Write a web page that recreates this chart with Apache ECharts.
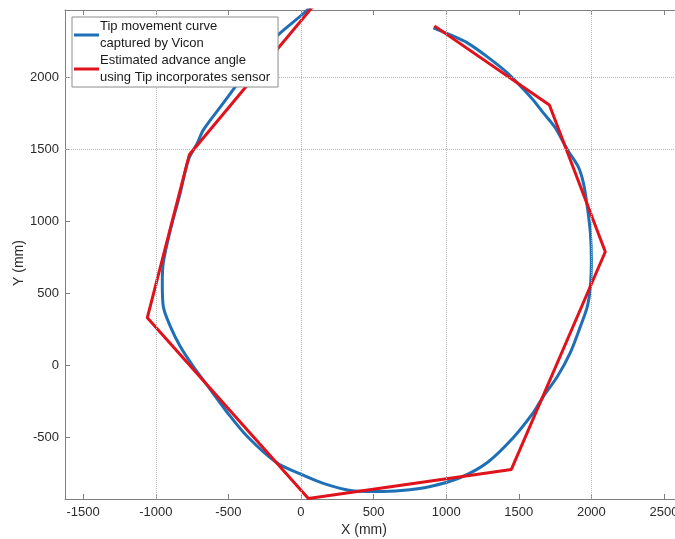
<!DOCTYPE html>
<html>
<head>
<meta charset="utf-8">
<script src="https://cdn.jsdelivr.net/npm/echarts@6/dist/echarts.min.js"></script>
<style>html,body{margin:0;padding:0;background:#fff;}#c{width:675px;height:539px;}</style>
</head>
<body>
<div id="c"></div>
<script>
// Tip movement curve captured by Vicon (mm)
var blueX = [912, 1029, 1146, 1284, 1421, 1580, 1669, 1752, 1835, 1910, 1945, 1972, 1993, 2000, 1993, 1972, 1924, 1855, 1766, 1669, 1601, 1463, 1284, 1098, 891, 691, 512, 340, 154, 3, -169, -369, -507, -624, -741, -831, -899, -948, -955, -948, -899, -831, -775, -713, -672, -534, -417, -280, -142, 44, 99];
var blueY = [2341, 2292, 2237, 2140, 2029, 1863, 1752, 1648, 1496, 1378, 1267, 1101, 921, 734, 547, 409, 270, 90, -76, -215, -325, -499, -672, -776, -838, -866, -873, -866, -817, -755, -672, -492, -325, -166, -7, 132, 270, 409, 575, 713, 942, 1198, 1427, 1544, 1634, 1821, 1981, 2168, 2306, 2465, 2535];
// Estimated advance angle using Tip incorporates sensor (mm)
var redX = [919, 1711, 2096, 1449, 51, -1058, -769, 120];
var redY = [2355, 1807, 789, -720, -921, 332, 1461, 2535];
// Axis ticks and grid lines
var xTicks = [-1500, -1000, -500, 0, 500, 1000, 1500, 2000, 2500];
var yTicks = [-500, 0, 500, 1000, 1500, 2000];
var gridX = [-1000, 0, 1000, 2000];
var gridY = [1500, 2000];

var nameBlue = 'Tip movement curve\ncaptured by Vicon';
var nameRed = 'Estimated advance angle\nusing Tip incorporates sensor';

function pairs(xs, ys) { return xs.map(function (x, i) { return [x, ys[i]]; }); }
function plain(v) { return String(v); }

var font = '"Liberation Sans", Arial, sans-serif';
var axisCol = '#808080';

var chart = echarts.init(document.getElementById('c'), null, {renderer: 'canvas'});
var gridLines = gridX.map(function (v) { return {xAxis: v}; }).concat(gridY.map(function (v) { return {yAxis: v}; }));

chart.setOption({
  animation: false,
  backgroundColor: '#fff',
  grid: {left: 65, top: 10, width: 610, height: 489, containLabel: false, outerBoundsMode: 'none'},
  xAxis: [{
    type: 'value', position: 'bottom', min: -1625, max: 2576,
    axisLine: {show: true, onZero: false, lineStyle: {color: axisCol, width: 1}},
    axisTick: {show: true, inside: true, length: 5, customValues: xTicks, lineStyle: {color: axisCol}},
    axisLabel: {show: true, customValues: xTicks, formatter: plain, margin: 7, color: '#2b2b2b', fontSize: 13, fontFamily: font, showMaxLabel: true, showMinLabel: true, hideOverlap: false},
    splitLine: {show: false}
  }, {
    type: 'value', position: 'top', min: -1625, max: 2576,
    axisLine: {show: true, onZero: false, lineStyle: {color: axisCol, width: 1}},
    axisTick: {show: true, inside: true, length: 5, customValues: xTicks, lineStyle: {color: axisCol}},
    axisLabel: {show: false},
    splitLine: {show: false}
  }],
  yAxis: [{
    type: 'value', min: -925, max: 2465,
    axisLine: {show: true, onZero: false, lineStyle: {color: axisCol, width: 1}},
    axisTick: {show: true, inside: true, length: 5, customValues: yTicks, lineStyle: {color: axisCol}},
    axisLabel: {show: true, customValues: yTicks, formatter: plain, margin: 6, color: '#2b2b2b', fontSize: 13, fontFamily: font},
    splitLine: {show: false}
  }],
  legend: {
    left: 72, top: 17, orient: 'vertical', z: 20, zlevel: 1,
    backgroundColor: '#fff', borderColor: '#8c8c8c', borderWidth: 1, borderRadius: 0,
    padding: [1, 8, 1, 2], itemGap: 0, itemWidth: 25, itemHeight: 3,
    icon: 'rect',
    textStyle: {fontSize: 13, lineHeight: 17, color: '#1a1a1a', fontFamily: font, padding: [0, 0, 0, -4]},
    data: [nameBlue, nameRed]
  },
  graphic: [
    {type: 'text', left: 363 - 22, top: 523, style: {text: 'X (mm)', font: '14px ' + font, fill: '#2b2b2b'}},
    {type: 'text', x: 19, y: 263, rotation: Math.PI / 2, style: {text: 'Y (mm)', font: '14px ' + font, fill: '#2b2b2b', align: 'center', verticalAlign: 'middle'}}
  ],
  series: [{
    type: 'line', data: [], silent: true, z: 1,
    markLine: {silent: true, symbol: ['none', 'none'], label: {show: false},
      lineStyle: {type: 'dotted', color: '#b4b4b4', width: 1}, animation: false, data: gridLines}
  }, {
    name: nameBlue, type: 'line', data: pairs(blueX, blueY), showSymbol: false, symbol: 'none', z: 3, smooth: 0.3,
    lineStyle: {color: '#1f6fb6', width: 3}, itemStyle: {color: '#1f6fb6'}
  }, {
    name: nameRed, type: 'line', data: pairs(redX, redY), showSymbol: false, symbol: 'none', z: 4,
    lineStyle: {color: '#e0121b', width: 3}, itemStyle: {color: '#e0121b'}
  }]
});
</script>
</body>
</html>
